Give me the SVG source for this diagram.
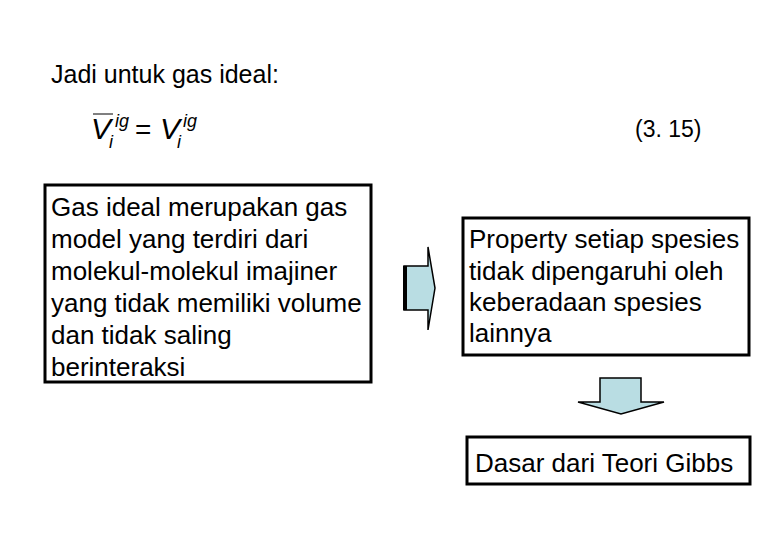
<svg xmlns="http://www.w3.org/2000/svg" width="780" height="540" viewBox="0 0 780 540">
<style>
text{font-family:"Liberation Sans",Arial,sans-serif;font-size:26px;fill:#000}
.box{fill:#fff;stroke:#000;stroke-width:3}
.arr{fill:#b9dde3;stroke:#000;stroke-width:1.5}
.eq{font-style:italic;font-size:30px}
.sup{font-style:italic;font-size:18px}
</style>
<rect width="780" height="540" fill="#fff"/>
<text x="51" y="83" style="font-size:25px">Jadi untuk gas ideal:</text>
<g id="equation">
<line x1="93" y1="114" x2="113" y2="114" stroke="#000" stroke-width="1"/>
<text class="eq" x="91" y="139">V</text>
<text class="sup" x="115" y="127">ig</text>
<text class="sup" x="109" y="148">i</text>
<text x="135" y="139" style="font-size:28px">=</text>
<text class="eq" x="160" y="139">V</text>
<text class="sup" x="183" y="127">ig</text>
<text class="sup" x="177" y="148">i</text>
</g>
<text x="635" y="137" style="font-size:23px">(3. 15)</text>
<g id="box1">
<rect class="box" x="45" y="185" width="326" height="197"/>
<text x="51" y="216">Gas ideal merupakan gas</text>
<text x="51" y="248">model yang terdiri dari</text>
<text x="51" y="280">molekul-molekul imajiner</text>
<text x="51" y="312">yang tidak memiliki volume</text>
<text x="51" y="344">dan tidak saling</text>
<text x="51" y="376">berinteraksi</text>
</g>
<g id="box2">
<rect class="box" x="463" y="218" width="286" height="137"/>
<text x="469" y="248">Property setiap spesies</text>
<text x="469" y="280">tidak dipengaruhi oleh</text>
<text x="469" y="311">keberadaan spesies</text>
<text x="469" y="342">lainnya</text>
</g>
<g id="box3">
<rect class="box" x="467" y="437" width="283" height="47"/>
<text x="475" y="472">Dasar dari Teori Gibbs</text>
</g>
<g id="connectors">
<path class="arr" d="M404 266 H428 V247 L435 288 L428 330 V310 H404 Z"/>
<rect x="403" y="266" width="4" height="44" fill="#000"/>
<path class="arr" d="M600 378 H641 V402 H664 L621 414 L578 402 H600 Z"/>
</g>
</svg>
